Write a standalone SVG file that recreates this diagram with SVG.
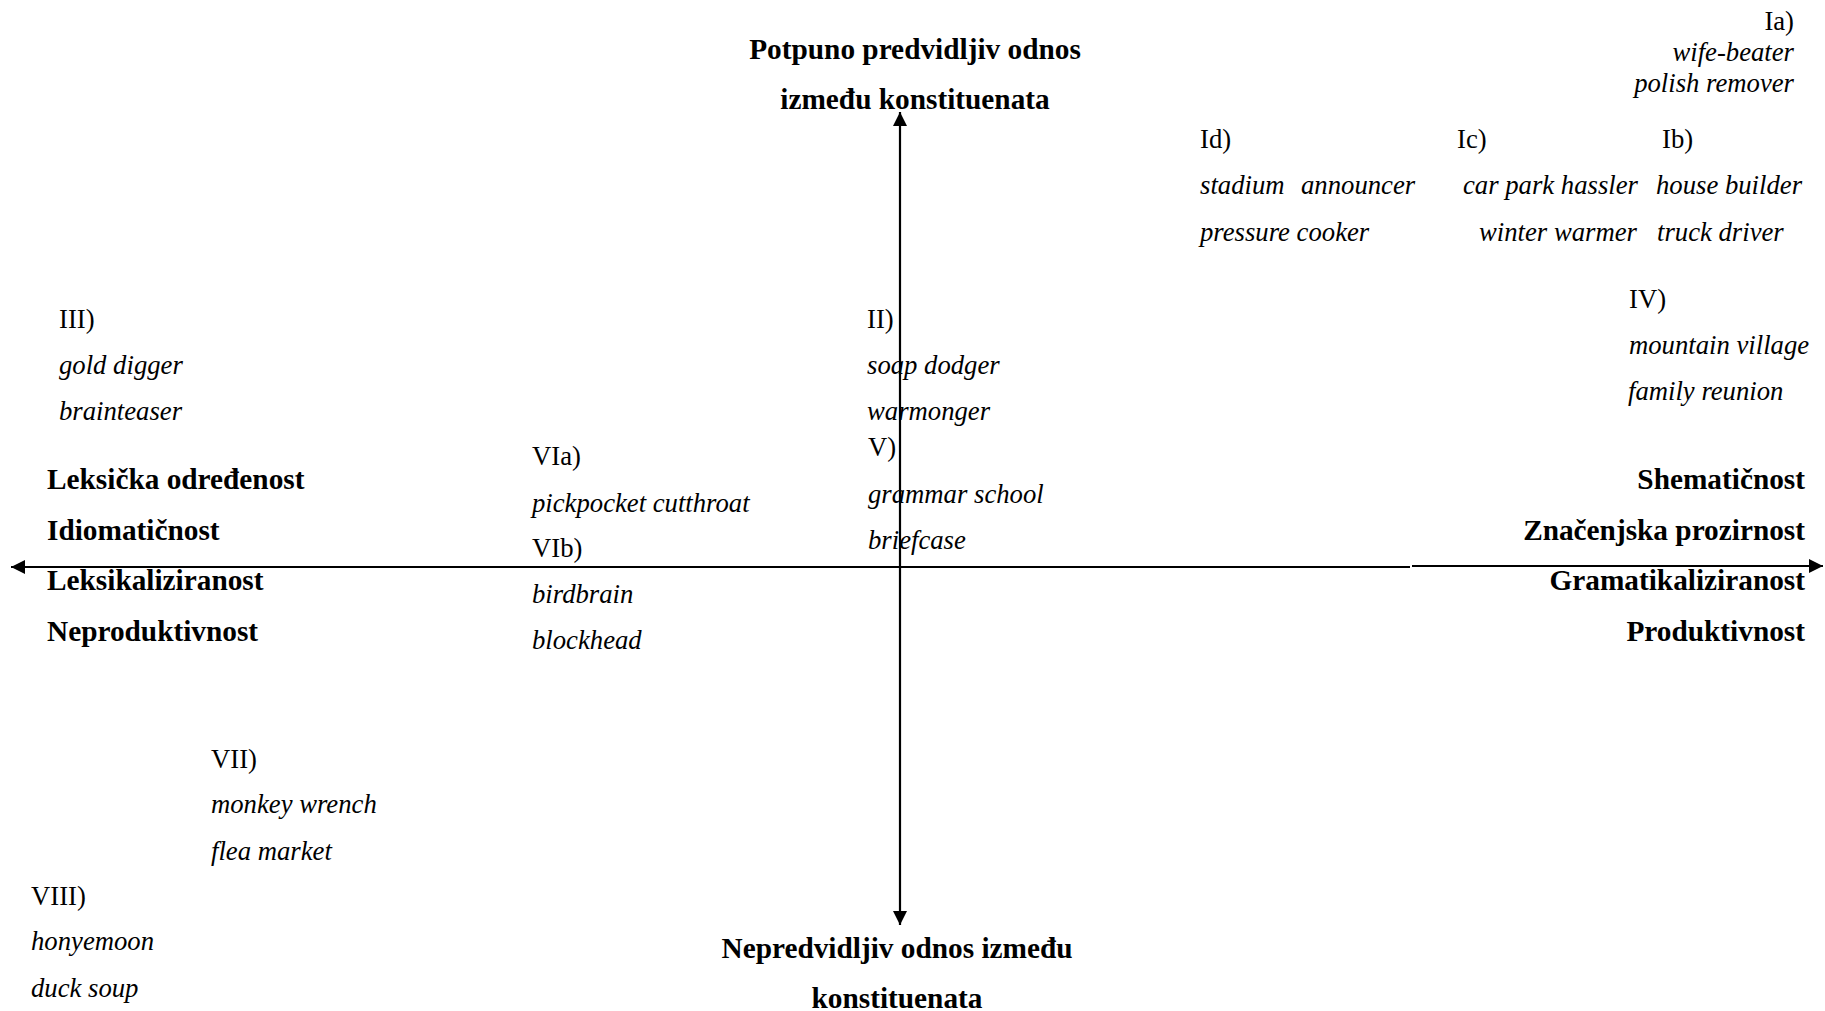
<svg xmlns="http://www.w3.org/2000/svg" width="1825" height="1011" viewBox="0 0 1825 1011">
<style>
text{font-family:"Liberation Serif","Times New Roman",serif;font-size:26.7px;fill:#000}
.b{font-weight:bold;font-size:29.3px}
.i{font-style:italic}
.r{text-anchor:end}
.m{text-anchor:middle}
.ax{stroke:#000;stroke-width:2.2;fill:none}
</style>
<defs>
<marker id="ah" viewBox="0 0 10 10" refX="10" refY="5" markerWidth="15" markerHeight="14" markerUnits="userSpaceOnUse" orient="auto">
<path d="M0,0 L10,5 L0,10 z" fill="#000"/>
</marker>
</defs>
<rect width="1825" height="1011" fill="#fff"/>
<g id="connectors">
<line class="ax" x1="900" y1="567" x2="900" y2="112" marker-end="url(#ah)"/>
<line class="ax" x1="900" y1="567" x2="900" y2="925" marker-end="url(#ah)"/>
<line class="ax" x1="900" y1="567" x2="11" y2="567" marker-end="url(#ah)"/>
<line class="ax" x1="900" y1="567" x2="1410" y2="567"/>
<line class="ax" x1="1412" y1="566" x2="1823" y2="566" marker-end="url(#ah)"/>
</g>
<g id="top-title"><text class="b m" x="915" y="59">Potpuno predvidljiv odnos</text><text class="b m" x="915" y="109">između konstituenata</text></g>
<g id="bottom-title"><text class="b m" x="897" y="958">Nepredvidljiv odnos između</text><text class="b m" x="897" y="1008">konstituenata</text></g>
<g id="left-labels"><text class="b" x="47" y="489">Leksička određenost</text><text class="b" x="47" y="540">Idiomatičnost</text><text class="b" x="47" y="590">Leksikaliziranost</text><text class="b" x="47" y="641">Neproduktivnost</text></g>
<g id="right-labels"><text class="b r" x="1805" y="489">Shematičnost</text><text class="b r" x="1805" y="540">Značenjska prozirnost</text><text class="b r" x="1805" y="590">Gramatikaliziranost</text><text class="b r" x="1805" y="641">Produktivnost</text></g>
<g id="Ia"><text class="r" x="1794" y="30">Ia)</text><text class="i r" x="1794" y="61">wife-beater</text><text class="i r" x="1794" y="92">polish remover</text></g>
<g id="Id"><text x="1200" y="148">Id)</text><text class="i" x="1200" y="194">stadium</text><text class="i" x="1301" y="194">announcer</text><text class="i" x="1200" y="241">pressure cooker</text></g>
<g id="Ic"><text x="1457" y="148">Ic)</text><text class="i" x="1463" y="194">car park hassler</text><text class="i" x="1479" y="241">winter warmer</text></g>
<g id="Ib"><text x="1662" y="148">Ib)</text><text class="i" x="1656" y="194">house builder</text><text class="i" x="1657" y="241">truck driver</text></g>
<g id="IV"><text x="1629" y="308">IV)</text><text class="i" x="1629" y="354">mountain village</text><text class="i" x="1628" y="400">family reunion</text></g>
<g id="III"><text x="59" y="328">III)</text><text class="i" x="59" y="374">gold digger</text><text class="i" x="59" y="420">brainteaser</text></g>
<g id="II"><text x="867" y="328">II)</text><text class="i" x="867" y="374">soap dodger</text><text class="i" x="867" y="420">warmonger</text></g>
<g id="V"><text x="868" y="456">V)</text><text class="i" x="868" y="503">grammar school</text><text class="i" x="868" y="549">briefcase</text></g>
<g id="VI"><text x="532" y="465">VIa)</text><text class="i" x="532" y="512">pickpocket cutthroat</text><text x="532" y="557">VIb)</text><text class="i" x="532" y="603">birdbrain</text><text class="i" x="532" y="649">blockhead</text></g>
<g id="VII"><text x="211" y="768">VII)</text><text class="i" x="211" y="813">monkey wrench</text><text class="i" x="211" y="860">flea market</text></g>
<g id="VIII"><text x="31" y="905">VIII)</text><text class="i" x="31" y="950">honyemoon</text><text class="i" x="31" y="997">duck soup</text></g>
</svg>
